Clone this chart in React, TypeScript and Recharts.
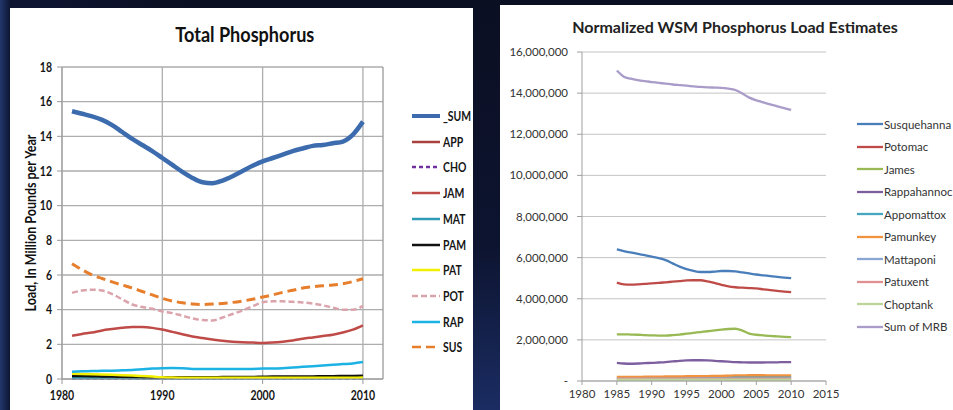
import { CartesianGrid, Line, LineChart, ReferenceLine, XAxis, YAxis } from 'recharts';

// ---- Total Phosphorus (million lb / yr) ----
const TP_YEARS = [
  1981, 1982, 1983, 1984, 1985, 1986, 1987, 1988, 1989, 1990,
  1991, 1992, 1993, 1994, 1995, 1996, 1997, 1998, 1999, 2000,
  2001, 2002, 2003, 2004, 2005, 2006, 2007, 2008, 2009, 2010,
];
const TP_SUM = [
  15.45, 15.3, 15.15, 14.95, 14.65, 14.25, 13.85, 13.5, 13.15, 12.75,
  12.35, 11.95, 11.6, 11.35, 11.3, 11.45, 11.7, 12.0, 12.3, 12.55,
  12.75, 12.95, 13.15, 13.3, 13.45, 13.5, 13.6, 13.7, 14.1, 14.85,
];
const TP_APP = [
  0.12, 0.12, 0.12, 0.11, 0.11, 0.11, 0.1, 0.1, 0.1, 0.1,
  0.1, 0.1, 0.1, 0.1, 0.1, 0.1, 0.1, 0.1, 0.1, 0.1,
  0.1, 0.1, 0.1, 0.1, 0.1, 0.11, 0.11, 0.11, 0.12, 0.12,
];
const TP_CHO = [
  0.03, 0.03, 0.03, 0.03, 0.03, 0.03, 0.03, 0.03, 0.03, 0.03,
  0.03, 0.03, 0.03, 0.03, 0.03, 0.03, 0.03, 0.03, 0.03, 0.03,
  0.03, 0.03, 0.03, 0.03, 0.03, 0.03, 0.03, 0.03, 0.03, 0.03,
];
const TP_JAM = [
  2.5, 2.6, 2.68, 2.8, 2.88, 2.95, 3.0, 3.0, 2.95, 2.85,
  2.72, 2.58, 2.45, 2.36, 2.28, 2.2, 2.15, 2.12, 2.1, 2.08,
  2.1, 2.15, 2.22, 2.32, 2.4, 2.48, 2.55, 2.68, 2.85, 3.1,
];
const TP_MAT = [
  0.06, 0.06, 0.06, 0.06, 0.06, 0.06, 0.05, 0.05, 0.05, 0.05,
  0.05, 0.05, 0.05, 0.05, 0.05, 0.05, 0.05, 0.05, 0.05, 0.05,
  0.05, 0.05, 0.05, 0.05, 0.05, 0.05, 0.05, 0.06, 0.06, 0.06,
];
const TP_PAM = [
  0.18, 0.17, 0.16, 0.15, 0.14, 0.13, 0.12, 0.1, 0.09, 0.08,
  0.08, 0.09, 0.1, 0.1, 0.1, 0.11, 0.11, 0.12, 0.12, 0.13,
  0.14, 0.14, 0.15, 0.15, 0.15, 0.16, 0.16, 0.17, 0.18, 0.19,
];
const TP_PAT = [
  0.3, 0.29, 0.28, 0.26, 0.24, 0.22, 0.2, 0.17, 0.14, 0.1,
  0.08, 0.07, 0.07, 0.07, 0.07, 0.07, 0.07, 0.07, 0.07, 0.07,
  0.07, 0.07, 0.07, 0.07, 0.07, 0.07, 0.07, 0.07, 0.07, 0.08,
];
const TP_POT = [
  4.97, 5.1, 5.15, 5.1, 4.9, 4.6, 4.3, 4.15, 4.05, 3.9,
  3.8, 3.65, 3.5, 3.4, 3.38, 3.55, 3.75, 3.95, 4.2, 4.42,
  4.48, 4.48, 4.45, 4.42, 4.35, 4.25, 4.12, 4.0, 4.0, 4.22,
];
const TP_RAP = [
  0.42, 0.44, 0.46, 0.47, 0.48, 0.5, 0.52, 0.56, 0.6, 0.62,
  0.63, 0.62, 0.58, 0.58, 0.58, 0.58, 0.58, 0.58, 0.58, 0.6,
  0.6, 0.62, 0.66, 0.7, 0.74, 0.78, 0.82, 0.86, 0.9, 0.98,
];
const TP_SUS = [
  6.65, 6.3, 6.0, 5.8, 5.6, 5.42, 5.25, 5.05, 4.85, 4.65,
  4.5, 4.4, 4.33, 4.3, 4.32, 4.36, 4.42, 4.5, 4.6, 4.73,
  4.85, 5.0, 5.12, 5.25, 5.32, 5.38, 5.42, 5.5, 5.62, 5.78,
];
const TP_Y_TICKS = [0, 2, 4, 6, 8, 10, 12, 14, 16, 18];
const TP_X_TICKS = [1980, 1990, 2000, 2010];

// ---- Normalized WSM loads (million lb / yr, scaled up below) ----
const WSM_YEARS = [
  1985, 1986, 1987, 1988, 1989, 1990, 1991, 1992, 1993, 1994, 1995, 1996, 1997,
  1998, 1999, 2000, 2001, 2002, 2003, 2004, 2005, 2006, 2007, 2008, 2009, 2010,
];
const WSM_SUSQUEHANNA = [
  6.4, 6.32, 6.25, 6.18, 6.12, 6.05, 5.98, 5.88, 5.72, 5.56, 5.44, 5.35, 5.3,
  5.3, 5.32, 5.35, 5.35, 5.33, 5.28, 5.23, 5.18, 5.14, 5.1, 5.06, 5.03, 5.0,
];
const WSM_POTOMAC = [
  4.78, 4.7, 4.69, 4.7, 4.72, 4.75, 4.77, 4.8, 4.83, 4.86, 4.89, 4.9, 4.9,
  4.85, 4.77, 4.68, 4.6, 4.56, 4.54, 4.52, 4.5, 4.46, 4.42, 4.38, 4.35, 4.32,
];
const WSM_JAMES = [
  2.27, 2.27, 2.26, 2.25, 2.23, 2.22, 2.21, 2.21, 2.23, 2.26, 2.3, 2.34, 2.38,
  2.42, 2.46, 2.5, 2.53, 2.54, 2.45, 2.3, 2.25, 2.22, 2.19, 2.17, 2.15, 2.13,
];
const WSM_RAPPAHANNOCK = [
  0.88, 0.85, 0.84, 0.85, 0.87, 0.88, 0.9, 0.92, 0.95, 0.98, 1.0, 1.01, 1.01,
  1.0, 0.98, 0.96, 0.94, 0.92, 0.91, 0.9, 0.9, 0.9, 0.91, 0.91, 0.92, 0.92,
];
const WSM_APPOMATTOX = [
  0.15, 0.15, 0.15, 0.15, 0.15, 0.15, 0.16, 0.16, 0.16, 0.16, 0.17, 0.17, 0.17,
  0.17, 0.18, 0.18, 0.18, 0.19, 0.19, 0.19, 0.19, 0.2, 0.2, 0.2, 0.2, 0.2,
];
const WSM_PAMUNKEY = [
  0.2, 0.2, 0.2, 0.2, 0.21, 0.21, 0.21, 0.22, 0.22, 0.22, 0.23, 0.23, 0.24,
  0.24, 0.25, 0.25, 0.26, 0.27, 0.27, 0.28, 0.28, 0.28, 0.27, 0.27, 0.27, 0.27,
];
const WSM_MATTAPONI = [
  0.1, 0.1, 0.1, 0.1, 0.1, 0.1, 0.1, 0.1, 0.1, 0.1, 0.11, 0.11, 0.11,
  0.11, 0.11, 0.11, 0.11, 0.12, 0.12, 0.12, 0.12, 0.12, 0.12, 0.12, 0.12, 0.12,
];
const WSM_PATUXENT = [
  0.12, 0.12, 0.12, 0.12, 0.12, 0.12, 0.12, 0.12, 0.12, 0.12, 0.12, 0.12, 0.12,
  0.12, 0.12, 0.12, 0.12, 0.12, 0.12, 0.12, 0.12, 0.12, 0.12, 0.12, 0.12, 0.12,
];
const WSM_CHOPTANK = [
  0.06, 0.06, 0.06, 0.06, 0.06, 0.06, 0.06, 0.06, 0.06, 0.06, 0.06, 0.06, 0.06,
  0.06, 0.06, 0.06, 0.06, 0.06, 0.06, 0.06, 0.06, 0.06, 0.06, 0.06, 0.06, 0.06,
];
const WSM_SUM_MRB = [
  15.1, 14.8, 14.7, 14.63, 14.58, 14.54, 14.5, 14.46, 14.42, 14.39, 14.36, 14.33, 14.3,
  14.28, 14.27, 14.26, 14.22, 14.15, 13.98, 13.78, 13.65, 13.55, 13.45, 13.36, 13.27, 13.18,
];
const WSM_Y_TICKS = [0, 2000000, 4000000, 6000000, 8000000, 10000000, 12000000, 14000000, 16000000];
const WSM_X_TICKS = [1980, 1985, 1990, 1995, 2000, 2005, 2010, 2015];

const tpSeries = [
  { key: '_SUM', values: TP_SUM, color: '#3d6cae', width: 4.5, dash: undefined },
  { key: 'APP', values: TP_APP, color: '#a8403d', width: 2.5, dash: undefined },
  { key: 'CHO', values: TP_CHO, color: '#7030a0', width: 2, dash: '4 3' },
  { key: 'JAM', values: TP_JAM, color: '#bf4b49', width: 2.5, dash: undefined },
  { key: 'MAT', values: TP_MAT, color: '#2e9cb5', width: 2.5, dash: undefined },
  { key: 'PAM', values: TP_PAM, color: '#111111', width: 2.5, dash: undefined },
  { key: 'PAT', values: TP_PAT, color: '#f2f000', width: 2.5, dash: undefined },
  { key: 'POT', values: TP_POT, color: '#dba3ac', width: 2.5, dash: '6 3' },
  { key: 'RAP', values: TP_RAP, color: '#1db2e4', width: 2.5, dash: undefined },
  { key: 'SUS', values: TP_SUS, color: '#e67e2c', width: 3, dash: '9 5' },
];

const wsmSeries = [
  { key: 'Susquehanna', values: WSM_SUSQUEHANNA, color: '#4a7ebb' },
  { key: 'Potomac', values: WSM_POTOMAC, color: '#be4b48' },
  { key: 'James', values: WSM_JAMES, color: '#98b954' },
  { key: 'Rappahannoc', values: WSM_RAPPAHANNOCK, color: '#7d5fa0' },
  { key: 'Appomattox', values: WSM_APPOMATTOX, color: '#46a6c0' },
  { key: 'Pamunkey', values: WSM_PAMUNKEY, color: '#f0923e' },
  { key: 'Mattaponi', values: WSM_MATTAPONI, color: '#8aa6d2' },
  { key: 'Patuxent', values: WSM_PATUXENT, color: '#e09090' },
  { key: 'Choptank', values: WSM_CHOPTANK, color: '#bcd49a' },
  { key: 'Sum of MRB', values: WSM_SUM_MRB, color: '#a99cc9' },
];

const tpData = TP_YEARS.map((year, i) => {
  const row: Record<string, number> = { year };
  tpSeries.forEach((s) => (row[s.key] = s.values[i]));
  return row;
});

const wsmData = WSM_YEARS.map((year, i) => {
  const row: Record<string, number> = { year };
  wsmSeries.forEach((s) => (row[s.key] = s.values[i] * 1000000));
  return row;
});

const LATO = 'Lato, Carlito, Calibri, sans-serif';
const SQUEEZE = 0.78; // the left slide's text is horizontally condensed

// condensed bold tick label for the left chart
const NarrowTick = ({ x, y, payload, textAnchor, anchor }: any) => (
  <g transform={`translate(${x},${y})`}>
    <text
      transform={`scale(${SQUEEZE},1)`}
      textAnchor={anchor || textAnchor}
      dy={anchor === 'middle' ? '0.71em' : '0.355em'}
      fill="#151515"
      fontSize={13.5}
      fontWeight={700}
      fontFamily={LATO}
    >
      {payload.value}
    </text>
  </g>
);

const squeezed = (scale: number, origin: string) => ({
  display: 'inline-block',
  transform: `scaleX(${scale})`,
  transformOrigin: origin,
  whiteSpace: 'nowrap' as const,
});

function TotalPhosphorus() {
  return (
    <div style={{ position: 'absolute', left: 10, top: 8, width: 463, height: 402, background: '#fff' }}>
      <div
        style={{
          position: 'absolute', left: 0, width: 470, top: 13, textAlign: 'center',
          fontFamily: LATO, fontWeight: 700, fontSize: 21, color: '#111',
        }}
      >
        <span style={squeezed(0.86, 'center')}>Total Phosphorus</span>
      </div>
      <div style={{ position: 'absolute', left: 20, top: 215, width: 0, height: 0 }}>
        <div
          style={{
            position: 'absolute', transform: 'translate(-50%, -50%) rotate(-90deg) scaleX(0.86)', whiteSpace: 'nowrap',
            fontFamily: LATO, fontWeight: 700, fontSize: 14.5, color: '#111',
          }}
        >
          Load, In Million Pounds per Year
        </div>
      </div>
      <div style={{ position: 'absolute', left: -10, top: -8 }}>
        <LineChart width={480} height={410} data={tpData} margin={{ top: 67, right: 97, left: 22, bottom: 8 }}>
          <CartesianGrid stroke="#adadad" strokeWidth={1.3} verticalValues={TP_X_TICKS} />
          <XAxis
            dataKey="year"
            type="number"
            domain={[1980, 2012]}
            ticks={TP_X_TICKS}
            height={23}
            stroke="#9a9a9a"
            tickSize={5}
            tickMargin={6}
            tick={<NarrowTick anchor="middle" />}
          />
          <YAxis
            type="number"
            domain={[0, 18]}
            ticks={TP_Y_TICKS}
            width={40}
            stroke="#9a9a9a"
            tickSize={5}
            tickMargin={5}
            tick={<NarrowTick anchor="end" />}
          />
          <ReferenceLine x={2012} stroke="#9a9a9a" strokeWidth={1.3} />
          {tpSeries.map((s) => (
            <Line
              key={s.key}
              type="monotone"
              dataKey={s.key}
              stroke={s.color}
              strokeWidth={s.width}
              strokeDasharray={s.dash}
              dot={false}
              isAnimationActive={false}
            />
          ))}
        </LineChart>
      </div>
      {/* legend */}
      {tpSeries.map((s, i) => (
        <div
          key={s.key}
          style={{ position: 'absolute', left: 402, top: 110 - 8 + i * 25.7 - 2, display: 'flex', alignItems: 'center' }}
        >
          <svg width={30} height={12}>
            <line x1={0} y1={6} x2={28} y2={6} stroke={s.color} strokeWidth={s.key === '_SUM' ? 4 : 2.5} strokeDasharray={s.dash} />
          </svg>
          <span style={{ ...squeezed(0.8, 'left'), fontFamily: LATO, fontWeight: 700, fontSize: 13, color: '#151515', marginLeft: 1 }}>
            {s.key}
          </span>
        </div>
      ))}
    </div>
  );
}

function NormalizedLoads() {
  return (
    <div style={{ position: 'absolute', left: 500, top: 5, width: 453, height: 405, background: '#fff' }}>
      <div
        style={{
          position: 'absolute', left: 0, width: 470, top: 12, textAlign: 'center',
          fontFamily: LATO, fontWeight: 700, fontSize: 16, color: '#222',
        }}
      >
        Normalized WSM Phosphorus Load Estimates
      </div>
      <div style={{ position: 'absolute', left: -20, top: -5 }}>
        <LineChart width={473} height={410} data={wsmData} margin={{ top: 52, right: 127, left: 22, bottom: 9 }}>
          <CartesianGrid stroke="#c4c4c4" vertical={false} />
          <XAxis
            dataKey="year"
            type="number"
            domain={[1980, 2015]}
            ticks={WSM_X_TICKS}
            height={20}
            stroke="#a0a0a0"
            tickSize={4}
            tickMargin={5}
            tick={{ fill: '#333', fontSize: 11.5, fontFamily: LATO }}
          />
          <YAxis
            type="number"
            domain={[0, 16000000]}
            ticks={WSM_Y_TICKS}
            width={80}
            stroke="#a0a0a0"
            tickSize={5}
            tickMargin={9}
            tickFormatter={(v: number) => (v === 0 ? '-' : v.toLocaleString('en-US'))}
            tick={{ fill: '#333', fontSize: 11.5, fontFamily: LATO }}
          />
          {wsmSeries.map((s) => (
            <Line
              key={s.key}
              type="monotone"
              dataKey={s.key}
              stroke={s.color}
              strokeWidth={2.3}
              dot={false}
              isAnimationActive={false}
            />
          ))}
        </LineChart>
      </div>
      {wsmSeries.map((s, i) => (
        <div
          key={s.key}
          style={{ position: 'absolute', left: 357, top: 124 - 5 + i * 22.5 - 8, display: 'flex', alignItems: 'center', whiteSpace: 'nowrap' }}
        >
          <svg width={26} height={16}>
            <line x1={0} y1={8} x2={26} y2={8} stroke={s.color} strokeWidth={2.3} />
          </svg>
          <span style={{ fontFamily: LATO, fontSize: 11.5, color: '#333', marginLeft: 1 }}>{s.key}</span>
        </div>
      ))}
    </div>
  );
}

export default function App() {
  return (
    <div
      style={{
        position: 'absolute', left: 0, top: 0, width: 953, height: 410, overflow: 'hidden',
        background: 'linear-gradient(90deg, #22376c 0px, #0e1533 10px, #0b0f22 200px, #0b0f22 100%)',
      }}
    >
      <div
        style={{
          position: 'absolute', left: 473, top: 0, width: 27, height: 410,
          background: 'linear-gradient(180deg, #0b0f22 0%, #0d1430 60%, #1a2c62 100%)',
        }}
      />
      <TotalPhosphorus />
      <NormalizedLoads />
    </div>
  );
}
